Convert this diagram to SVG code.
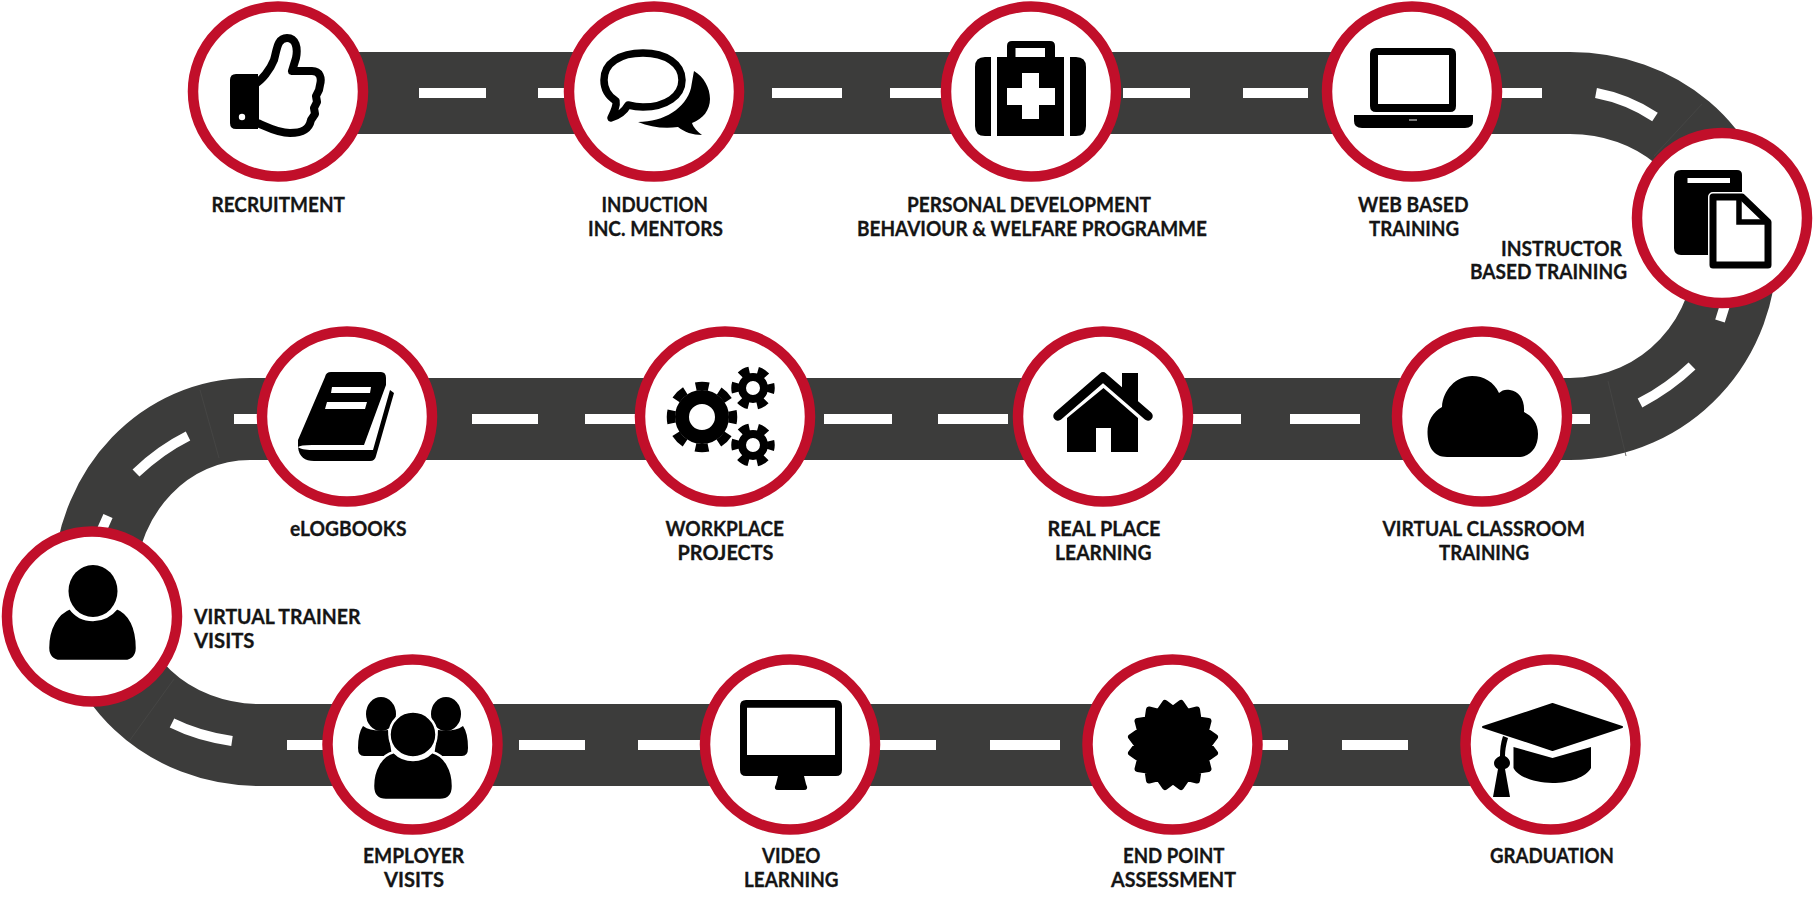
<svg xmlns="http://www.w3.org/2000/svg" xmlns:xlink="http://www.w3.org/1999/xlink" width="1816" height="898" viewBox="0 0 1816 898">
<style>
.road{fill:none;stroke:#3c3c3b;stroke-width:82}
.dash{fill:none;stroke:#fff;stroke-width:10}
.seam{fill:none;stroke:#474746;stroke-width:.8}
.ring{fill:#fff;stroke:#c10f2a;stroke-width:10.5}
.ic{fill:#000}
.gap{fill:#000;stroke:#fff;stroke-width:2.5}
.wh{fill:#fff}
text{font-family:"Lato","Open Sans","Liberation Sans",sans-serif;font-weight:700;font-size:21px;fill:#151515;stroke:#151515;stroke-width:.3}
</style>
<defs>
<g id="gear8"><circle r="20" fill="none" stroke="#000" stroke-width="14"/><circle r="31" fill="none" stroke="#000" stroke-width="8.500" stroke-dasharray="13 11.350" stroke-dashoffset="6.500"/></g>
<g id="gear6"><circle r="11" fill="none" stroke="#000" stroke-width="8"/><circle r="18" fill="none" stroke="#000" stroke-width="7.500" stroke-dasharray="10 8.850" stroke-dashoffset="5"/></g>
</defs>
<g id="connectors">
<path class="road" d="M300 93H1570C1655 93 1730 150 1736 240C1740 340 1665 419 1570 419H250C165 419 98 490 94 580C92 680 170 745 260 745H1500"/>
<path class="seam" d="M1702 104L1654 156M1608 381L1626 456M200 390L219 458M174 679L130 740"/>
<path class="dash" d="M419 93H486M538 93H570M772 93H842M890 93H944M1123 93H1190M1243 93H1308M1500 93H1542M1596 93Q1628 99 1655 117M1725 305L1720 321M1692 366Q1669 388 1640 403M1590 419H1560M1360 419H1290M1241 419H1190M1008 419H938M892 419H824M640 419H585M538 419H472M270 419H234M188 436Q160 450 136 473M108 516L100 534M172 723Q198 736 232 741M287 745H325M519 745H585M638 745H700M880 745H936M990 745H1060M1262 745H1288M1342 745H1408"/>
</g>
<g id="n1"><circle class="ring" cx="278" cy="91.5" r="85"/>
<path class="ic" d="M236 74H258V129H236Q230 129 230 123V80Q230 74 236 74Z"/><circle class="wh" cx="242" cy="117" r="3.200"/>
<path fill="#fff" stroke="#000" stroke-width="8" stroke-linejoin="round" d="M255 84C262 80 270 70 274 60C277 50 277 38 287 38C296 38 298 48 296 58L292 71H312C320 71 322 78 320 85L319 90L316 96L317 102L314 108L315 114L311 120C309 130 302 133 290 133C276 133 266 126 255 122Z"/></g>
<g id="n2"><circle class="ring" cx="654" cy="91.5" r="85"/>
<path fill="#fff" stroke="#000" stroke-width="7.500" stroke-linejoin="round" d="M604 80C604 63 620 53 643 53C666 53 682 64 682 80C682 96 666 107 643 107C637 107 632 106 628 105C624 112 618 116 611 118C614 112 617 106 616 101C608 96 604 89 604 80Z"/>
<path class="ic" d="M694 71C704 77 710 88 710 99C710 110 703 119 692 123C693 127 698 132 702 135C693 135 684 132 678 127C664 129 650 127 638 122C664 122 686 108 691 88C692 82 693 76 694 71Z"/></g>
<g id="n3"><circle class="ring" cx="1031" cy="91.5" r="85"/>
<path class="ic" fill-rule="evenodd" d="M1007 57V46Q1007 41 1012 41H1050Q1055 41 1055 46V57H1064V136H997V57ZM1015.500 48V57H1045V48Z"/>
<path class="ic" d="M991 57V136H985Q975 136 975 126V67Q975 57 985 57ZM1070 57V136H1076Q1086 136 1086 126V67Q1086 57 1076 57Z"/>
<path class="wh" d="M1022 73H1039V88H1055V105H1039V119H1022V105H1007V88H1022Z"/></g>
<g id="n4"><circle class="ring" cx="1412" cy="91.5" r="85"/>
<path class="ic" fill-rule="evenodd" d="M1376 48H1450Q1456 48 1456 54V106Q1456 112 1450 112H1376Q1370 112 1370 106V54Q1370 48 1376 48ZM1378 55V104H1449V55Z"/>
<path class="ic" d="M1354 115H1473V121Q1473 128 1465 128H1362Q1354 128 1354 121Z"/><rect x="1409" y="119" width="8" height="2" fill="#777"/></g>
<g id="n5"><circle class="ring" cx="1722" cy="218" r="85"/>
<path class="ic" d="M1681 170H1737Q1742 170 1742 175V255H1681Q1674 255 1674 248V177Q1674 170 1681 170Z"/><rect class="wh" x="1687.500" y="178" width="42.500" height="5"/>
<path fill="#fff" stroke="#fff" stroke-width="10" stroke-linejoin="round" d="M1713 197H1742L1768 222V265H1713Z"/>
<path fill="#fff" stroke="#000" stroke-width="7" stroke-linejoin="round" d="M1713 197H1742L1768 222V265H1713Z"/>
<path fill="none" stroke="#000" stroke-width="5.500" d="M1739 196V222H1768"/></g>
<g id="n6"><circle class="ring" cx="1482" cy="416.500" r="85"/>
<path class="ic" d="M1447 457C1433 457 1427.500 446 1427.500 432C1427.500 421 1433 412 1442 407C1443 390 1456 376 1472 376C1484 376 1494 382 1499 393C1502 390 1506 389 1510 390C1519 391 1525 400 1524 412C1532 416 1538 423 1538 434C1538 448 1530 457 1518 457Z"/></g>
<g id="n7"><circle class="ring" cx="1103" cy="416.500" r="85"/>
<path fill="none" stroke="#000" stroke-width="9.500" stroke-linecap="round" stroke-linejoin="round" d="M1058 416L1103 377L1148 416"/>
<path class="ic" d="M1122 373H1138V405L1122 392Z"/>
<path class="ic" d="M1103.500 388L1138 418V452H1111V428H1096V452H1067V418Z"/></g>
<g id="n8"><circle class="ring" cx="725" cy="416.500" r="85"/>
<use xlink:href="#gear8" href="#gear8" x="702" y="417"/><use xlink:href="#gear6" href="#gear6" x="753" y="388"/><use xlink:href="#gear6" href="#gear6" x="753" y="445"/></g>
<g id="n9"><circle class="ring" cx="347" cy="416.500" r="85"/>
<path class="ic" d="M298 447L298 440L325 377Q326 372 331 372H381Q386 372 386 378V385L364 445H312Q300 445 298 447Z"/>
<path class="ic" d="M298 447C299 457 305 461 314 461H370Q375 461 376 456L394 393L390 390L373 450H312C305 450 300 449 298 447Z"/>
<path class="wh" d="M332 387H371L370 393H331ZM327 402H367L365 409H325Z"/></g>
<g id="n10"><circle class="ring" cx="92" cy="616.500" r="85"/>
<ellipse class="ic" cx="93" cy="591" rx="24.500" ry="26"/>
<path class="gap" d="M70 608C77 618 85 620 93 620C101 620 109 618 117 608C130 613 137 628 137 648C137 656 132 661 125 661H60C53 661 48 656 48 648C48 628 57 613 70 608Z"/></g>
<g id="n11"><circle class="ring" cx="412.500" cy="744.500" r="85"/>
<ellipse class="ic" cx="381" cy="714" rx="15" ry="17"/><ellipse class="ic" cx="446" cy="714" rx="15" ry="17"/>
<path class="ic" d="M363 726C370 731 378 731 388 730L392 756H364Q358 756 358 748Q358 733 363 726ZM463 726C456 731 448 731 438 730L434 756H462Q468 756 468 748Q468 733 463 726Z"/>
<ellipse class="gap" cx="413" cy="734.500" rx="23.500" ry="23"/>
<path class="gap" d="M394 752C400 758 406 760 413 760C420 760 426 758 432 752C445 755 453 770 453 786C453 795 448 800 440 800H386C378 800 373 795 373 786C373 770 381 755 394 752Z"/></g>
<g id="n12"><circle class="ring" cx="790" cy="744.500" r="85"/>
<path class="ic" fill-rule="evenodd" d="M746 700H836Q842 700 842 706V770Q842 776 836 776H746Q740 776 740 770V706Q740 700 746 700ZM747 707.700V755H835V707.700Z"/>
<path class="ic" d="M778 776H804L806 784Q809 790 804 790H778Q773 790 776 784Z"/></g>
<g id="n13"><circle class="ring" cx="1172.500" cy="744.500" r="85"/>
<path transform="translate(1173 745)" class="ic" stroke="#000" stroke-width="6" stroke-linejoin="round" d="M0 -36L8 -42L14.200 -33L24 -35.500L25.500 -25.500L35.500 -24L33 -14.200L42 -8L36 0L42 8L33 14.200L35.500 24L25.500 25.500L24 35.500L14.200 33L8 42L0 36L-8 42L-14.200 33L-24 35.500L-25.500 25.500L-35.500 24L-33 14.200L-42 8L-36 0L-42 -8L-33 -14.200L-35.500 -24L-25.500 -25.500L-24 -35.500L-14.200 -33L-8 -42Z"/></g>
<g id="n14"><circle class="ring" cx="1550.500" cy="744.500" r="85"/>
<path class="ic" stroke="#000" stroke-width="2" stroke-linejoin="round" d="M1483 727L1552.500 704L1622 727L1552.500 750Z"/>
<path class="ic" d="M1513.500 747L1552.500 758L1591 747V768C1586 777 1570 783 1552.500 783C1535 783 1518 777 1513.500 768Z"/>
<path class="ic" d="M1503 736L1508 738Q1505 748 1505 756Q1510 759 1510 763Q1510 767 1505 769L1510 797H1493L1498 769Q1494 767 1494 763Q1494 759 1500 756Q1500 745 1503 736Z"/></g>
<g id="labels">
<text x="211.500" y="212" textLength="133.500" lengthAdjust="spacingAndGlyphs">RECRUITMENT</text>
<text x="601.500" y="212" textLength="106.500" lengthAdjust="spacingAndGlyphs">INDUCTION</text>
<text x="588" y="236" textLength="135" lengthAdjust="spacingAndGlyphs">INC. MENTORS</text>
<text x="907" y="212" textLength="244" lengthAdjust="spacingAndGlyphs">PERSONAL DEVELOPMENT</text>
<text x="857" y="236" textLength="350" lengthAdjust="spacingAndGlyphs">BEHAVIOUR &amp; WELFARE PROGRAMME</text>
<text x="1358" y="212" textLength="110.500" lengthAdjust="spacingAndGlyphs">WEB BASED</text>
<text x="1369" y="236" textLength="90" lengthAdjust="spacingAndGlyphs">TRAINING</text>
<text x="1501" y="255.500" textLength="121" lengthAdjust="spacingAndGlyphs">INSTRUCTOR</text>
<text x="1470" y="279" textLength="157" lengthAdjust="spacingAndGlyphs">BASED TRAINING</text>
<text x="1382.500" y="536" textLength="202.500" lengthAdjust="spacingAndGlyphs">VIRTUAL CLASSROOM</text>
<text x="1439" y="560" textLength="90" lengthAdjust="spacingAndGlyphs">TRAINING</text>
<text x="1047.500" y="536" textLength="113" lengthAdjust="spacingAndGlyphs">REAL PLACE</text>
<text x="1055" y="560" textLength="96.500" lengthAdjust="spacingAndGlyphs">LEARNING</text>
<text x="665.500" y="536" textLength="118.500" lengthAdjust="spacingAndGlyphs">WORKPLACE</text>
<text x="677.500" y="560" textLength="96" lengthAdjust="spacingAndGlyphs">PROJECTS</text>
<text x="290" y="536" textLength="116.500" lengthAdjust="spacingAndGlyphs">eLOGBOOKS</text>
<text x="194" y="624" textLength="166.500" lengthAdjust="spacingAndGlyphs">VIRTUAL TRAINER</text>
<text x="194" y="648" textLength="60.500" lengthAdjust="spacingAndGlyphs">VISITS</text>
<text x="363" y="863" textLength="101" lengthAdjust="spacingAndGlyphs">EMPLOYER</text>
<text x="384" y="887" textLength="60" lengthAdjust="spacingAndGlyphs">VISITS</text>
<text x="762" y="863" textLength="58.500" lengthAdjust="spacingAndGlyphs">VIDEO</text>
<text x="744" y="887" textLength="94.500" lengthAdjust="spacingAndGlyphs">LEARNING</text>
<text x="1123" y="863" textLength="101.500" lengthAdjust="spacingAndGlyphs">END POINT</text>
<text x="1111" y="887" textLength="125" lengthAdjust="spacingAndGlyphs">ASSESSMENT</text>
<text x="1490" y="863" textLength="124" lengthAdjust="spacingAndGlyphs">GRADUATION</text>
</g>
</svg>
